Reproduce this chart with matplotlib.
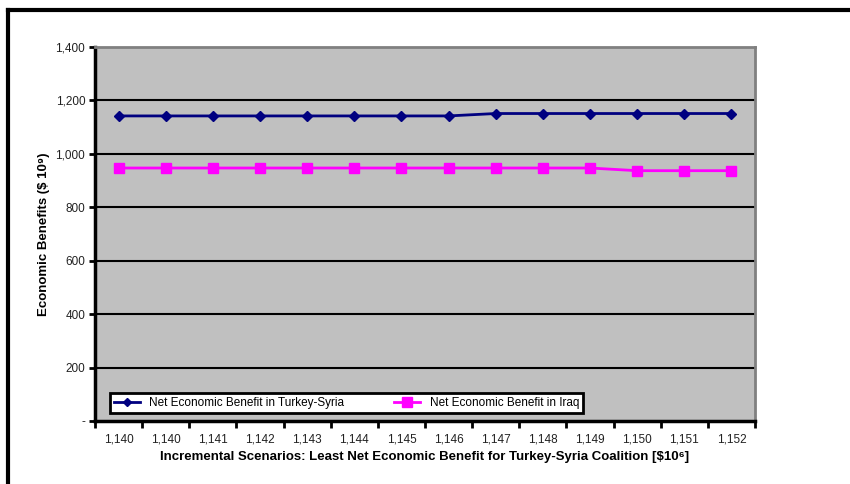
import matplotlib
matplotlib.use("Agg")
import matplotlib.pyplot as plt
import numpy as np

plt.rcParams['font.family'] = ['Liberation Sans', 'DejaVu Sans']

scenarios = ['1,140', '1,140', '1,141', '1,142', '1,143', '1,144', '1,145',
             '1,146', '1,147', '1,148', '1,149', '1,150', '1,151', '1,152']
turkey_syria = [1142, 1142, 1142, 1142, 1142, 1142, 1142,
                1142, 1151, 1151, 1151, 1151, 1151, 1151]
iraq = [947, 947, 947, 947, 947, 947, 947,
        947, 947, 947, 947, 937, 937, 937]
yticks = [0, 200, 400, 600, 800, 1000, 1200, 1400]
ylabels = ['-', '200', '400', '600', '800', '1,000', '1,200', '1,400']

fig = plt.figure(figsize=(8.5, 4.84), dpi=100)
# outer chart frame
fig.add_artist(plt.Line2D([0.0094, 1.0], [0.979, 0.979], color='black', lw=3))
fig.add_artist(plt.Line2D([0.0094, 0.0094], [0.0, 0.979], color='black', lw=3))

ax = fig.add_axes([95/850, 1 - 421/484, 660/850, 374/484])
ax.set_facecolor('#c0c0c0')
x = np.arange(len(scenarios))
ax.plot(x, turkey_syria, color='#000080', lw=2, marker='D', ms=5,
        label='Net Economic Benefit in Turkey-Syria')
ax.plot(x, iraq, color='#ff00ff', lw=2, marker='s', ms=7.5,
        label='Net Economic Benefit in Iraq')

ax.set_xlim(-0.5, len(scenarios) - 0.5)
ax.set_ylim(0, 1400)
ax.set_yticks(yticks)
ax.set_yticklabels(ylabels)
ax.set_xticks(x)
ax.set_xticklabels(scenarios)
ax.set_xticks(np.arange(-0.5, len(scenarios)), minor=True)
ax.tick_params(axis='x', which='major', length=0, pad=9, labelsize=8.5)
ax.tick_params(axis='x', which='minor', length=5, width=2, direction='out')
ax.tick_params(axis='y', length=4, width=2, labelsize=8.5, pad=3)
for t in ax.get_yticklabels() + ax.get_xticklabels():
    t.set_color('#222222')

for yv in yticks[1:-1]:
    ax.axhline(yv, color='black', lw=1.5, zorder=1)

ax.spines['left'].set_linewidth(2.5)
ax.spines['bottom'].set_linewidth(2.5)
ax.spines['top'].set_color('#808080')
ax.spines['right'].set_color('#808080')
ax.spines['top'].set_linewidth(2)
ax.spines['right'].set_linewidth(2)

ax.set_ylabel('Economic Benefits ($ 10⁹)', fontsize=9.5, fontweight='bold', labelpad=4)
ax.set_xlabel('Incremental Scenarios: Least Net Economic Benefit for Turkey-Syria Coalition [$10⁶]',
              fontsize=9.5, fontweight='bold', labelpad=4)

leg = ax.legend(loc='lower left', bbox_to_anchor=(0.022, 0.022, 0.718, 0.062), mode='expand',
                ncol=2, fontsize=8.5, frameon=True, fancybox=False,
                borderpad=0.35, handlelength=2.2, markerscale=0.9,
                borderaxespad=0.0, columnspacing=5)
leg.get_frame().set_edgecolor('black')
leg.get_frame().set_linewidth(2)
leg.get_frame().set_facecolor('white')
leg.get_frame().set_alpha(1)

fig.savefig('out.png', dpi=100)
